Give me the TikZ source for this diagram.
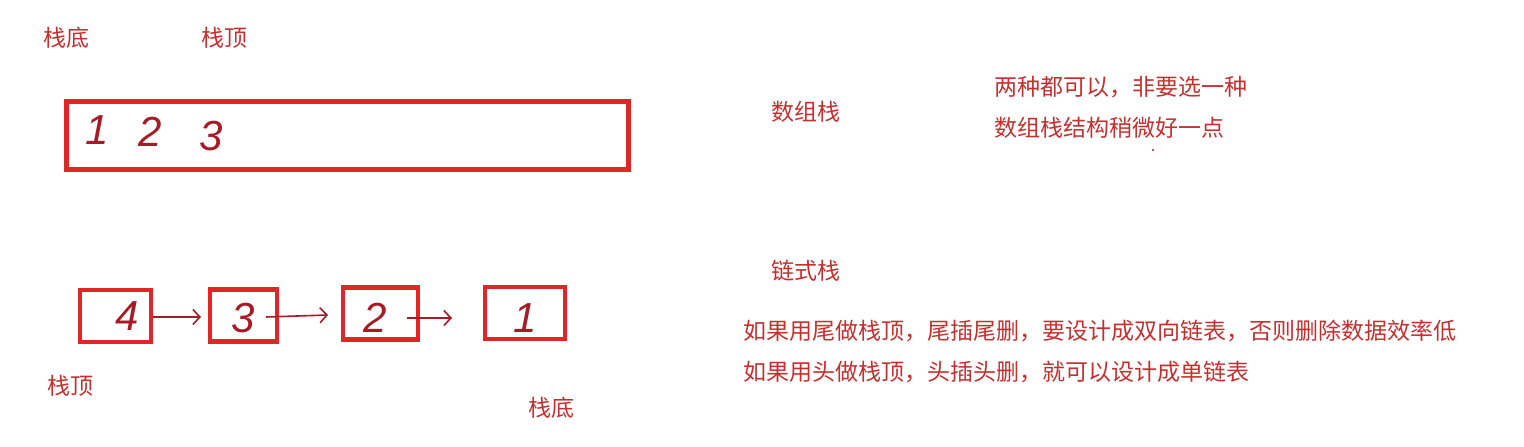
\documentclass[tikz,border=0pt]{standalone}
\usepackage{fontspec}
\newfontfamily\cjk{Noto Sans CJK SC}
\setmainfont{Liberation Sans}
\usetikzlibrary{arrows.meta}
\definecolor{txtred}{RGB}{196,48,48}
\definecolor{boxred}{RGB}{226,38,38}
\definecolor{inkred}{RGB}{165,28,38}
\tikzset{
  lbl/.style={inner sep=0pt, anchor=west, text=txtred, font=\cjk\fontsize{23}{28}\selectfont},
  cell/.style={draw=boxred, line width=4.5pt, inner sep=0pt, minimum height=52pt},
  digit/.style={inner sep=0pt, text=inkred, font=\itshape\fontsize{42}{44}\selectfont},
  link/.style={draw=inkred, line width=1.6pt, -{Straight Barb[length=7pt,width=15pt,line width=1.6pt]}}
}
\begin{document}
\begin{tikzpicture}[x=1pt,y=-1pt]
\useasboundingbox (0,0) rectangle (1524,447);
% array stack
\node[lbl] (ab) at (43,38) {栈底};
\node[lbl] (at) at (201,38) {栈顶};
\node[draw=boxred, line width=4.5pt, minimum width=562pt, minimum height=68pt, inner sep=0pt, anchor=north west] (arr) at (64,99) {};
\node[digit] (a1) at (97,130) {1};
\node[digit] (a2) at (150,132) {2};
\node[digit] (a3) at (211,136) {3};
% linked stack
\node[cell, minimum width=71pt] (b4) at (115.5,316) {};
\node[cell, minimum width=67pt] (b3) at (243.5,315.5) {};
\node[cell, minimum width=75pt] (b2) at (380.5,313.5) {};
\node[cell, minimum width=80pt] (b1) at (525,313) {};
\node[digit] (d4) at (127,316) {4};
\node[digit] (d3) at (243,318) {3};
\node[digit] (d2) at (375,318) {2};
\node[digit] (d1) at (525,318) {1};
\coordinate (s2) at (266,317);
\coordinate (s3) at (407,318);
\coordinate (e1) at (201,317);
\coordinate (e2) at (328,315);
\coordinate (e3) at (452,318);
\draw[link] (b4.east |- e1) -- (e1);
\draw[link] (s2) -- (e2);
\draw[link] (s3) -- (e3);
\node[lbl] (lt) at (47,386) {栈顶};
\node[lbl] (lb) at (528,408) {栈底};
% right side notes
\node[lbl] (n1) at (771,112) {数组栈};
\node[lbl] (n2) at (994,87) {两种都可以，非要选一种};
\node[lbl] (n3) at (994,128) {数组栈结构稍微好一点};
\fill[inkred] (1153,150) circle (1.1pt);
\node[lbl] (n4) at (771,271) {链式栈};
\node[lbl] (n5) at (743,331) {如果用尾做栈顶，尾插尾删，要设计成双向链表，否则删除数据效率低};
\node[lbl] (n6) at (743,372) {如果用头做栈顶，头插头删，就可以设计成单链表};
\end{tikzpicture}
\end{document}
